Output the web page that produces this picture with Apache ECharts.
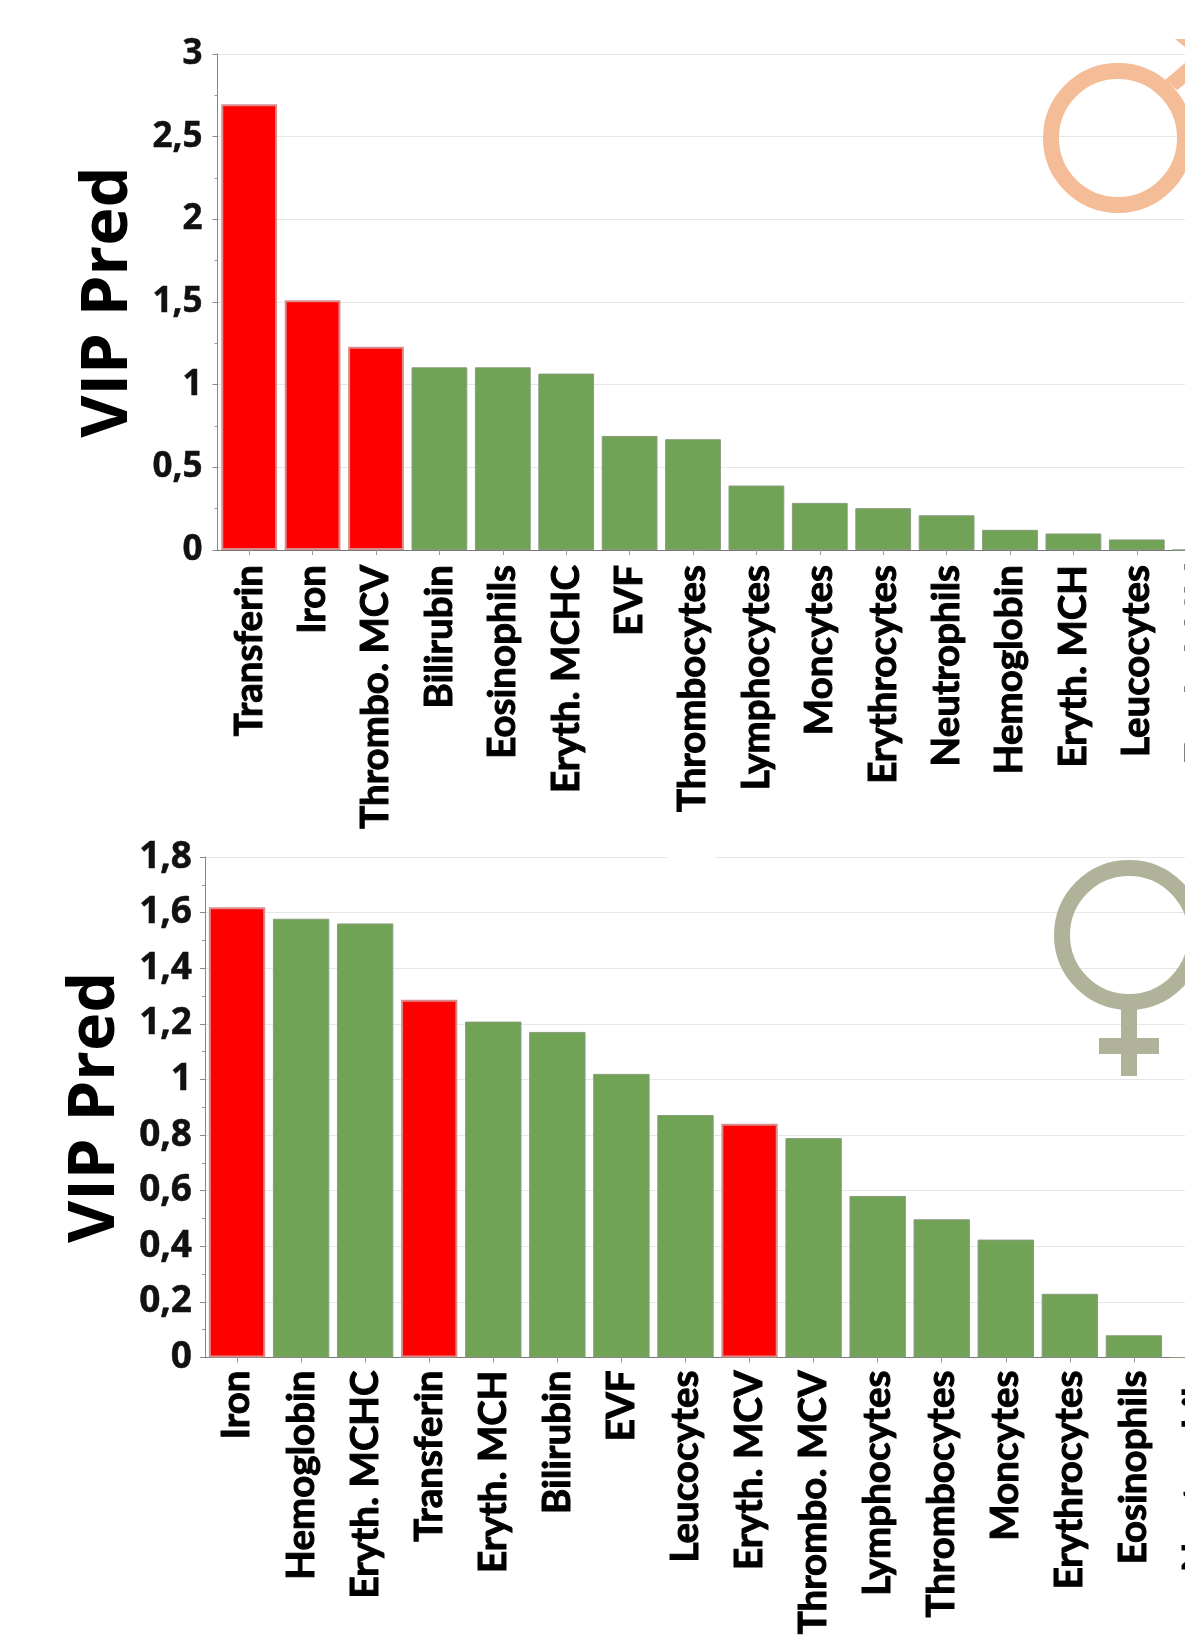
<!DOCTYPE html>
<html><head><meta charset="utf-8">
<style>html,body{margin:0;padding:0;background:#fff}#c{width:1185px;height:1644px}</style>
<script src="https://cdn.jsdelivr.net/npm/echarts@6/dist/echarts.min.js"></script>
</head><body><div id="c"></div>
<script>
const maleCategories = ['Transferin','Iron','Thrombo. MCV','Bilirubin','Eosinophils','Eryth. MCHC','EVF','Thrombocytes','Lymphocytes','Moncytes','Erythrocytes','Neutrophils','Hemoglobin','Eryth. MCH','Leucocytes','Eryth. MCV'];
const maleValues = [2.696,1.51,1.23,1.105,1.105,1.067,0.69,0.67,0.39,0.285,0.253,0.21,0.122,0.10,0.064,0];
const maleRed = ['Transferin','Iron','Thrombo. MCV'];
const femaleCategories = ['Iron','Hemoglobin','Eryth. MCHC','Transferin','Eryth. MCH','Bilirubin','EVF','Leucocytes','Eryth. MCV','Thrombo. MCV','Lymphocytes','Thrombocytes','Moncytes','Erythrocytes','Eosinophils','Neutrophils'];
const femaleValues = [1.619,1.578,1.561,1.287,1.208,1.171,1.02,0.872,0.841,0.789,0.581,0.497,0.424,0.229,0.08,0];
const femaleRed = ['Iron','Transferin','Eryth. MCV'];

const fmt = v => String(v).replace('.',',');
const catFont = {fontFamily:'Lato',fontWeight:700,fontSize:38.5,color:'#000',textBorderColor:'#000',textBorderWidth:1};
function item(cat,val,red){
  const r = red.includes(cat);
  return {value:val,itemStyle:{color:r?'#ff0000':'#70a355',borderColor:r?'#d98c8c':'#889c7c',borderWidth:r?2:1}};
}
function xAxis(i,cats,margin,pad){
  return {type:'category',gridIndex:i,data:cats,
    axisLine:{lineStyle:{color:'#777',width:1}},
    axisTick:{show:true,alignWithLabel:true,length:5,lineStyle:{color:'#999'}},
    axisLabel:{interval:0,rotate:90,margin,padding:[pad,0,0,0],...catFont},splitLine:{show:false}};
}
function yAxis(i,max,step,gap,size,margin){
  return {type:'value',gridIndex:i,min:0,max,interval:step,name:'VIP Pred',nameLocation:'middle',nameRotate:90,nameGap:gap,
    nameTextStyle:{fontFamily:'"Open Sans"',fontWeight:700,fontSize:65,color:'#000'},
    axisLine:{show:true,lineStyle:{color:'#888',width:1}},
    axisTick:{show:true,length:5,lineStyle:{color:'#888'}},
    minorTick:{show:true,splitNumber:2,length:3,lineStyle:{color:'#999'}},
    axisLabel:{margin,formatter:fmt,fontFamily:'"Open Sans"',fontWeight:700,fontSize:size,color:'#111',textBorderColor:'#111',textBorderWidth:0.5},
    splitLine:{show:true,lineStyle:{color:'#e6e6e6',width:1}}};
}
function bars(i,cats,vals,red){
  return {type:'bar',xAxisIndex:i,yAxisIndex:i,barCategoryGap:'12%',z:3,
    data:cats.map((c,k)=>item(c,vals[k],red))};
}
const chart = echarts.init(document.getElementById('c'),null,{renderer:'canvas'});
chart.setOption({
  animation:false,backgroundColor:'#fff',
  grid:[{left:217.5,top:54,width:1014.4,height:496,outerBoundsMode:'none'},{left:205,top:857,width:1025,height:500.5,outerBoundsMode:'none'}],
  xAxis:[xAxis(0,maleCategories,15,4),xAxis(1,femaleCategories,13,2)],
  yAxis:[yAxis(0,3,0.5,72,35,15),yAxis(1,1.8,0.2,67,37,13)],
  series:[bars(0,maleCategories,maleValues,maleRed),bars(1,femaleCategories,femaleValues,femaleRed)],
  graphic:[
    {type:'rect',shape:{x:667,y:850,width:48,height:12},style:{fill:'#fff'},z:2},
    {type:'circle',shape:{cx:1118,cy:138,r:67},style:{fill:'none',stroke:'#f4bc97',lineWidth:16},z:2},
    {type:'polygon',shape:{points:[[1165,80],[1185,63],[1185,84],[1177,90]]},style:{fill:'#f4bc97'},z:2},
    {type:'polygon',shape:{points:[[1175,39],[1185,39],[1185,47]]},style:{fill:'#f4bc97'},z:2},
    {type:'circle',shape:{cx:1129,cy:935,r:67},style:{fill:'none',stroke:'#b0b299',lineWidth:16},z:2},
    {type:'rect',shape:{x:1121,y:1002,width:16,height:74},style:{fill:'#b0b299'},z:2},
    {type:'rect',shape:{x:1099,y:1038,width:60,height:16},style:{fill:'#b0b299'},z:2}
  ]
});
</script></body></html>
